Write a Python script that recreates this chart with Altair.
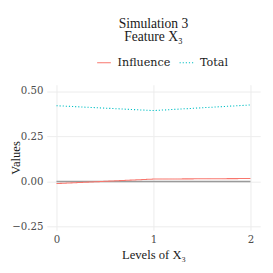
import altair as alt
import pandas as pd

levels = [0, 1, 2]
influence = [-0.012, 0.013, 0.016]
total = [0.419, 0.392, 0.423]
baseline = [0.0, 0.0, 0.0]
series_names = ["Influence", "Total"]
series_colors = ["#F8766D", "#00BFC4"]

df = pd.DataFrame({
    "level": levels * 2,
    "value": influence + total,
    "series": ["Influence"] * 3 + ["Total"] * 3,
})
base_df = pd.DataFrame({"level": levels, "value": baseline})

FONT = "Liberation Serif"
LFONT = "DejaVu Serif"

x_scale = alt.Scale(domain=[-0.1, 2.1], nice=False, zero=False)
y_scale = alt.Scale(domain=[-0.27, 0.535], nice=False, zero=False)

x_axis = alt.Axis(values=[0, 1, 2], format="d", title="Levels of X₃", grid=True,
                  domain=False, ticks=False, labelPadding=5, titlePadding=4,
                  labelFont=LFONT, labelFontSize=10.5)
y_axis = alt.Axis(values=[-0.25, -0.125, 0, 0.125, 0.25, 0.375, 0.5],
                  labelExpr="(abs(datum.value*4 - round(datum.value*4)) < 0.01) ? format(datum.value, '.2f') : ''",
                  title="Values", grid=True, domain=False, ticks=False,
                  labelFont=LFONT, labelFontSize=10.5,
                  labelPadding=4, titleX=-32, titleY=75, titleAngle=270,
                  titleAlign="center", titleBaseline="middle")

gray = alt.Chart(base_df).mark_line(color="#9a9a9a", strokeWidth=1.6).encode(
    x=alt.X("level:Q", scale=x_scale, axis=x_axis),
    y=alt.Y("value:Q", scale=y_scale, axis=y_axis),
)

lines = alt.Chart(df).mark_line(strokeWidth=1.1).encode(
    x=alt.X("level:Q", scale=x_scale),
    y=alt.Y("value:Q", scale=y_scale),
    color=alt.Color("series:N", scale=alt.Scale(domain=series_names, range=series_colors),
                    legend=alt.Legend(title=None, orient="none", direction="horizontal",
                                      legendX=51, legendY=-31, symbolType="stroke",
                                      symbolSize=200, symbolStrokeWidth=1.1,
                                      labelFontSize=11.5, labelFont=LFONT, labelColor="#1a1a1a",
                                      columnPadding=6, labelOffset=6)),
    strokeDash=alt.StrokeDash("series:N", scale=alt.Scale(domain=series_names, range=[[1, 0], [1.2, 2]]),
                              legend=None),
)

chart = alt.layer(gray, lines).properties(
    width=220, height=150,
    title=alt.TitleParams(text=["Simulation 3", "Feature X₃"], anchor="middle", frame="group",
                          font=FONT, fontSize=14, fontWeight="normal", color="#1a1a1a",
                          lineHeight=14, offset=11),
    autosize=alt.AutoSizeParams(type="none"),
    padding={"left": 40, "top": 75, "right": 5, "bottom": 40},
).configure(font=FONT).configure_view(stroke=None).configure_axis(
    gridColor="#ebebeb", gridWidth=1,
    labelColor="#4d4d4d",
    titleFont=FONT, titleFontSize=13, titleFontWeight="normal", titleColor="#1a1a1a",
)

chart.save("out.html", embed_options={"renderer": "svg", "actions": False})
